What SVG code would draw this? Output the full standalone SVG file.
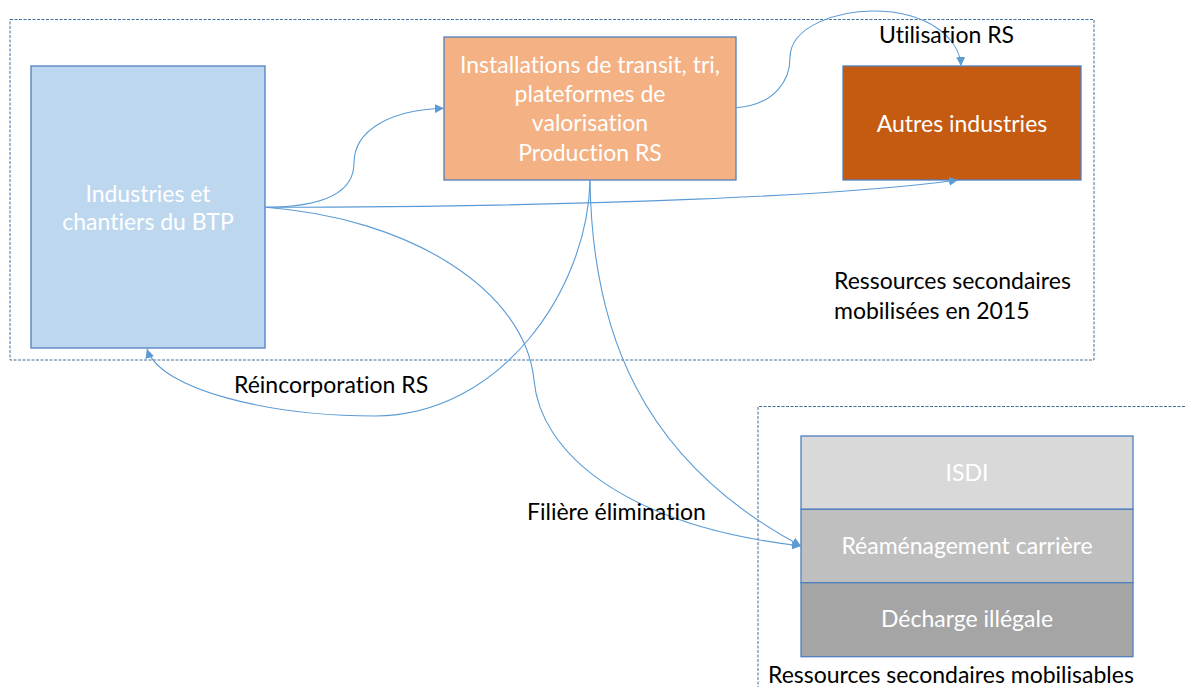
<svg xmlns="http://www.w3.org/2000/svg" width="1185" height="687" viewBox="0 0 1185 687">
<style>
  text { font-family: Lato, "Open Sans", "Liberation Sans", sans-serif; font-size: 23px; font-variant-ligatures: none; }
  .w { fill: #ffffff; text-anchor: middle; }
  .k { fill: #000000; }
  .box { stroke: #4F7FBF; stroke-width: 1.3; }
  .grp { fill: none; stroke: #41719C; stroke-width: 1; stroke-dasharray: 3 1.5; }
  .c { fill: none; stroke: #5B9BD5; stroke-width: 1.1; }
</style>
<defs>
  <marker id="ah" viewBox="0 0 10 10" refX="10" refY="5" markerWidth="9" markerHeight="9" markerUnits="userSpaceOnUse" orient="auto">
    <path d="M0,0 L10,5 L0,10 z" fill="#5B9BD5"/>
  </marker>
</defs>
<rect width="1185" height="687" fill="#ffffff"/>
<g id="group-mobilisees">
  <rect class="grp" x="10" y="19.5" width="1084" height="340.5"/>
  <text class="k" x="834" y="289">Ressources secondaires</text>
  <text class="k" x="834" y="318.5">mobilisées en 2015</text>
</g>
<g id="group-mobilisables">
  <path class="grp" d="M1185,406.5 H758 V687"/>
  <text class="k" x="768" y="683">Ressources secondaires mobilisables</text>
</g>
<g id="node-btp">
  <rect class="box" x="31" y="66" width="234" height="282" fill="#BDD7EE"/>
  <text class="w" x="148" y="201.5">Industries et</text>
  <text class="w" x="148" y="230">chantiers du BTP</text>
</g>
<g id="node-installations">
  <rect class="box" x="444" y="37" width="292" height="143" fill="#F4B183"/>
  <text class="w" x="590" y="72.5">Installations de transit, tri,</text>
  <text class="w" x="590" y="102">plateformes de</text>
  <text class="w" x="590" y="131.3">valorisation</text>
  <text class="w" x="590" y="160.6">Production RS</text>
</g>
<g id="node-autres">
  <rect class="box" x="843" y="66" width="238" height="114" fill="#C55A11"/>
  <text class="w" x="962" y="131.5">Autres industries</text>
</g>
<g id="node-isdi">
  <rect class="box" x="801" y="436" width="332" height="73.3" fill="#D9D9D9"/>
  <text class="w" x="967" y="480.5">ISDI</text>
</g>
<g id="node-reamenagement">
  <rect class="box" x="801" y="509.3" width="332" height="73.4" fill="#BFBFBF"/>
  <text class="w" x="967" y="554">Réaménagement carrière</text>
</g>
<g id="node-decharge">
  <rect class="box" x="801" y="582.7" width="332" height="74" fill="#A5A5A5"/>
  <text class="w" x="967" y="627.3">Décharge illégale</text>
</g>
<g id="connectors">
  <path class="c" marker-end="url(#ah)" d="M265.6,207.3 C330,207 354,190 354,163 C354,130 390,110 444,108.3"/>
  <path class="c" marker-end="url(#ah)" d="M736,107.7 C775,105 790,80 790,58 C790,25 840,11 873,11 C930,11 960,40 961,66"/>
  <path class="c" marker-end="url(#ah)" d="M265.6,207.3 C600,207 850,195 958,180"/>
  <path class="c" marker-end="url(#ah)" d="M590,180 C588,290 500,416 375,416 C270,416 160,390 147,349"/>
  <path class="c" marker-end="url(#ah)" d="M265.6,207.3 C410,218 525,290 534,380 C540,450 620,525 801,546"/>
  <path class="c" marker-end="url(#ah)" d="M590,180 C592,330 640,460 801,546"/>
  <text class="k" x="879" y="43">Utilisation RS</text>
  <text class="k" x="234" y="393">Réincorporation RS</text>
  <text class="k" x="527" y="520">Filière élimination</text>
</g>
</svg>
